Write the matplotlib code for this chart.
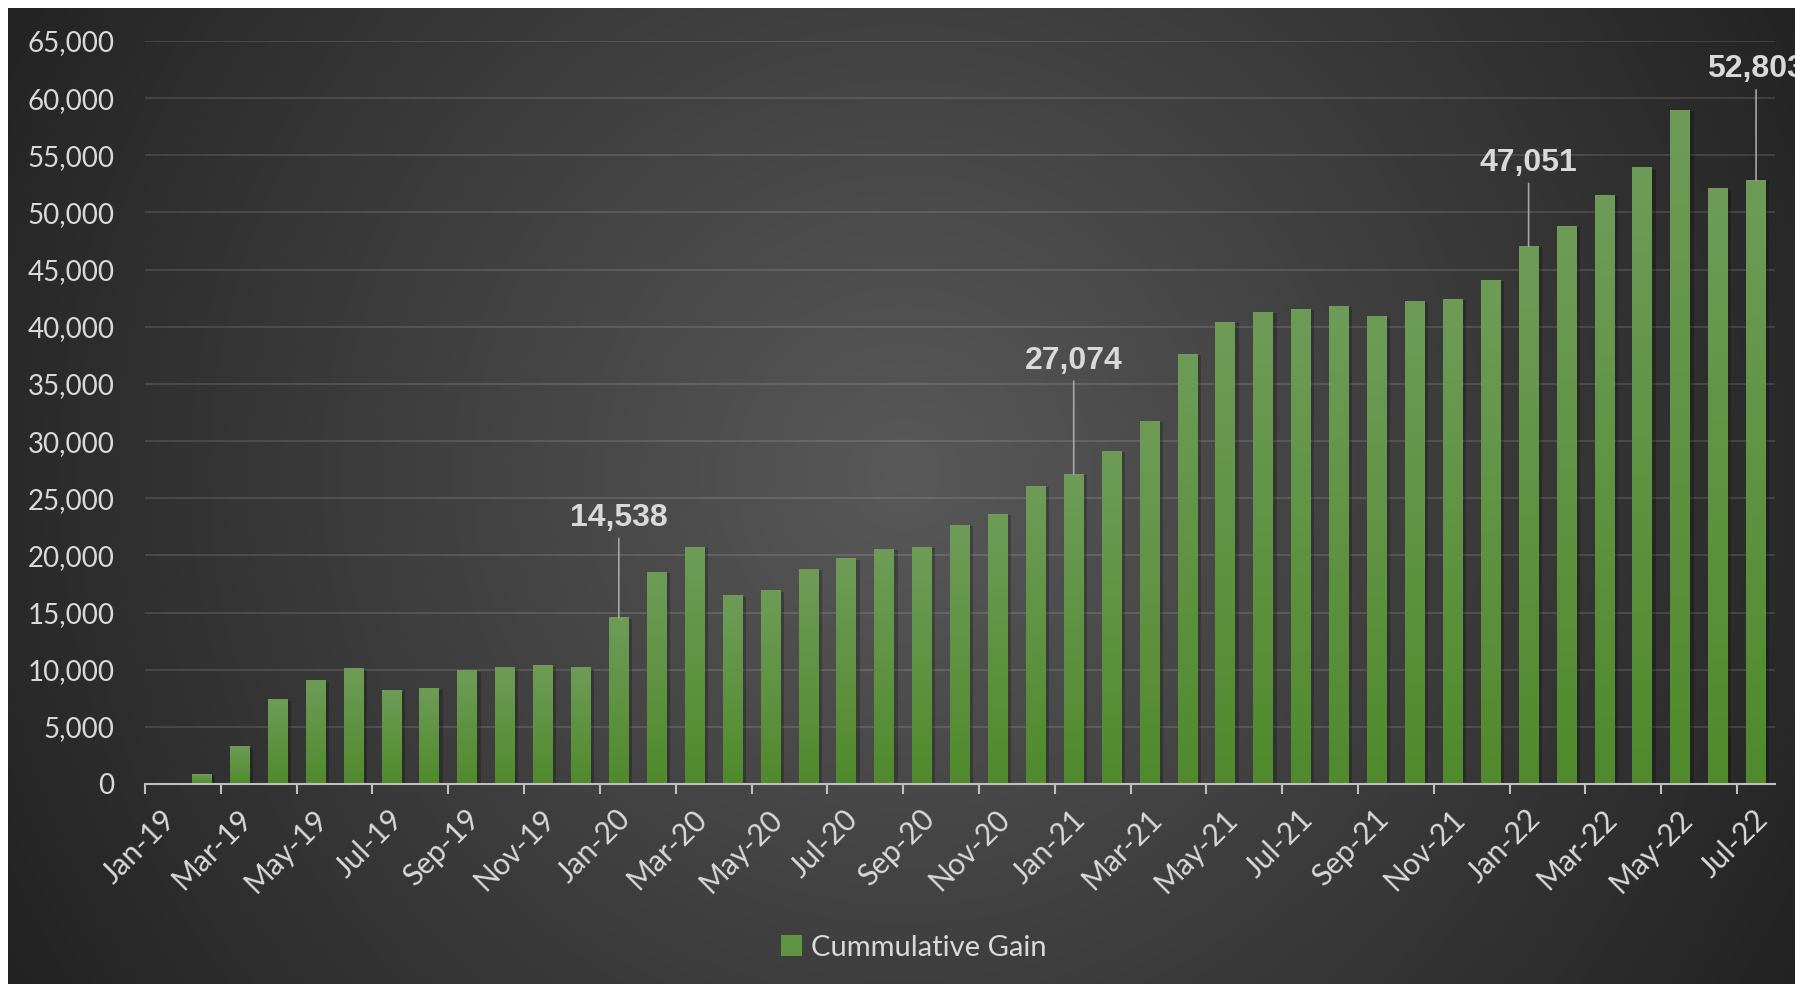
import numpy as np
import pandas as pd
import matplotlib
matplotlib.use("Agg")
import matplotlib.pyplot as plt
import matplotlib.patheffects as pe
import matplotlib.transforms as mtransforms
from matplotlib.colors import LinearSegmentedColormap
from matplotlib.patches import Patch

# monthly cumulative gain, Jan-19 .. Jul-22
months = pd.date_range("2019-01-01", "2022-07-01", freq="MS")
gain = [0, 870, 3240, 7350, 9020, 10070, 8150, 8320, 9900, 10160, 10340, 10160,
        14538, 18480, 20670, 16460, 16900, 18740, 19700, 20490, 20670, 22600, 23560, 26050,
        27074, 29120, 31740, 37610, 40360, 41240, 41480, 41760, 40870, 42180, 42360, 44040,
        47051, 48760, 51470, 53900, 58900, 52080, 52803]
callouts = ["2020-01", "2021-01", "2022-01", "2022-07"]
series_name = "Cummulative Gain"

W, H = 1795, 984
fig = plt.figure(figsize=(W / 100, H / 100), dpi=100, facecolor="white")

# dark radial background (white strip on top / left like the screenshot)
bg = fig.add_axes([8 / W, 0, 1 - 8 / W, 1 - 8 / H], zorder=-10)
yy, xx = np.mgrid[0:H, 0:W]
d = np.hypot(xx - 900, yy - 470)
level = np.clip(89 - 0.053 * d, 30, 255) / 255
bg.imshow(np.dstack([level] * 3), extent=[0, 1, 0, 1], aspect="auto")
bg.axis("off")

ax = fig.add_axes([145 / W, 200 / H, 1630 / W, 743 / H])
ax.set_facecolor("none")

x = np.arange(len(months)) + 0.5
bars = ax.bar(x, gain, width=0.52, color="#5e9442", zorder=3,
              path_effects=[pe.SimplePatchShadow(offset=(2.5, -0.5), shadow_rgbFace="black", alpha=0.22),
                            pe.Normal()])

green = LinearSegmentedColormap.from_list("g", ["#508a2c", "#6e9c58"])
ramp = np.linspace(0, 1, 256).reshape(-1, 1)
for b in bars:
    if b.get_height() <= 0:
        continue
    ax.imshow(ramp, cmap=green, origin="lower", aspect="auto", zorder=4,
              extent=[b.get_x(), b.get_x() + b.get_width(), 0, b.get_height()])

ax.set_xlim(0, len(months))
ax.set_ylim(0, 65000)
ax.set_yticks(np.arange(0, 65001, 5000))
ax.set_yticklabels([f"{v:,}" for v in range(0, 65001, 5000)])
ax.grid(axis="y", color="white", alpha=0.13, lw=1.3, zorder=0)
ax.set_axisbelow(True)

# ticks every two months at slot boundaries, labels drawn rotated below them
tick_pos = np.arange(0, len(months), 2)
ax.set_xticks(tick_pos)
ax.set_xticklabels([])
shift = mtransforms.ScaledTranslation(19 / 72, -22 / 72, fig.dpi_scale_trans)
for p, lab in zip(tick_pos, months[::2].strftime("%b-%y")):
    ax.text(p, 0, lab, transform=ax.get_xaxis_transform() + shift, rotation=45,
            ha="right", va="center", rotation_mode="anchor",
            family="Lato", fontsize=21.5, color="#d9d9d9")

for s in ["left", "right", "top"]:
    ax.spines[s].set_visible(False)
ax.spines["bottom"].set_color("#bfbfbf")
ax.spines["bottom"].set_linewidth(1.5)
ax.spines["bottom"].set_zorder(5)
ax.tick_params(axis="x", length=7, width=1.5, color="#bfbfbf", direction="out")
ax.tick_params(axis="y", length=0, pad=22)
for lab in ax.get_yticklabels():
    lab.set_fontfamily("Lato")
    lab.set_fontsize(20)
    lab.set_color("#d9d9d9")

# value callouts with leader lines
lifts = [72, 82, 60, 80]
labels = list(months.strftime("%Y-%m"))
for key, lift in zip(callouts, lifts):
    i = labels.index(key)
    ax.annotate(f"{gain[i]:,}", xy=(x[i], gain[i]), xytext=(0, lift), textcoords="offset points",
                ha="center", va="center", fontsize=23, fontweight="bold",
                family="Liberation Sans", color="#d9d9d9", zorder=6,
                arrowprops=dict(arrowstyle="-", color="#a6a6a6", lw=1.2, shrinkA=2, shrinkB=0))

leg = fig.legend(handles=[Patch(facecolor="#5e9442", label=series_name)], loc="center",
                 bbox_to_anchor=(0.509, 0.037), frameon=False, handlelength=0.75,
                 handleheight=0.75, handletextpad=0.3,
                 prop={"family": "Lato", "size": 21})
for t in leg.get_texts():
    t.set_color("#d9d9d9")

fig.savefig("out.png", dpi=100, facecolor=fig.get_facecolor())
